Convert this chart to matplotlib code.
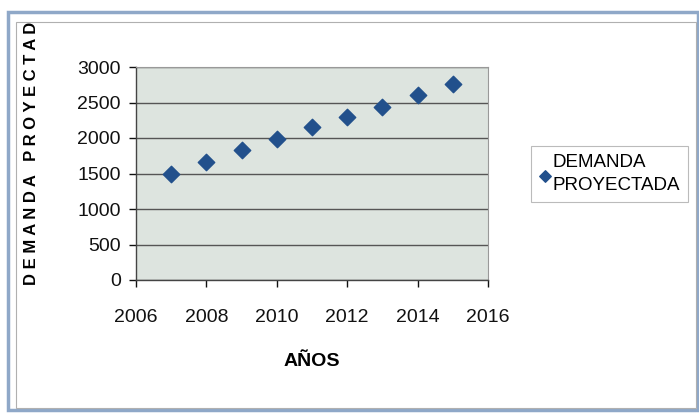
import matplotlib
matplotlib.use('Agg')
import matplotlib.pyplot as plt
from matplotlib.patches import Rectangle

plt.rcParams['font.family'] = ['Liberation Sans Narrow', 'Liberation Sans', 'DejaVu Sans']

years = [2007, 2008, 2009, 2010, 2011, 2012, 2013, 2014, 2015]
demanda = [1500, 1660, 1830, 1980, 2150, 2290, 2435, 2610, 2755]
xticks = [2006, 2008, 2010, 2012, 2014, 2016]
yticks = [0, 500, 1000, 1500, 2000, 2500, 3000]

fig = plt.figure(figsize=(6.99, 4.2), dpi=100)
fig.patch.set_facecolor('white')

# outer frames
fig.add_artist(Rectangle((8/699, 10/420), 690/699, 398/420, transform=fig.transFigure,
                         fill=False, edgecolor='#8fa8c8', lw=2.5))
fig.add_artist(Rectangle((16/699, 12/420), 680/699, 386/420, transform=fig.transFigure,
                         fill=False, edgecolor='#b0b0b0', lw=0.8))

ax = fig.add_axes([136/699, 140/420, 352/699, 213/420])
ax.set_facecolor('#dde4df')
ax.scatter(years, demanda, marker='D', s=70, color='#22508c', zorder=3,
           label='DEMANDA\nPROYECTADA')

ax.set_xlim(2006, 2016)
ax.set_ylim(0, 3000)
ax.set_xticks(xticks)
ax.set_yticks(yticks)
ax.yaxis.grid(True, color='#555555', lw=1.0)
ax.set_axisbelow(True)
ax.tick_params(axis='both', labelsize=14, colors='#111111', length=5, width=1)
ax.tick_params(axis='x', pad=16)
ax.tick_params(axis='y', pad=6)
for s in ['top', 'right']:
    ax.spines[s].set_color('#999999')
    ax.spines[s].set_linewidth(0.8)
for s in ['left', 'bottom']:
    ax.spines[s].set_color('#444444')
    ax.spines[s].set_linewidth(1.0)

ax.set_xlabel('AÑOS', fontsize=14, fontweight='bold', labelpad=19)
fig.text(32/699, 1 - 153/420, 'D E M A N D A   P R O Y E C T A D',
         rotation=90, ha='center', va='center', fontsize=12, fontweight='bold',
         family=['Liberation Sans', 'DejaVu Sans'])

leg = ax.legend(loc='center left', bbox_to_anchor=(531/699, 1 - 174/420),
                bbox_transform=fig.transFigure, fontsize=13.5, frameon=True,
                fancybox=False, edgecolor='#aaaaaa', handletextpad=0.05,
                borderpad=0.4, borderaxespad=0, markerscale=0.7, handlelength=0.7)
leg.get_frame().set_linewidth(0.8)
for t in leg.get_texts():
    t.set_linespacing(1.5)

fig.savefig('out.png', dpi=100, facecolor='white')
